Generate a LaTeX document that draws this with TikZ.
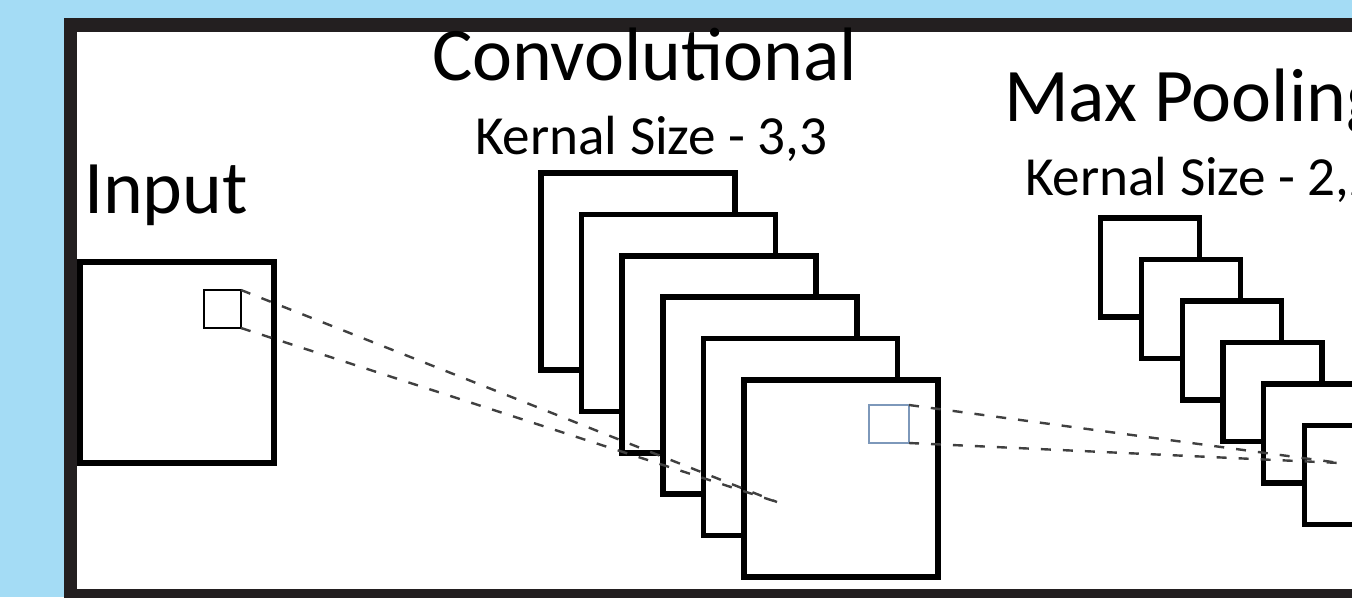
\documentclass[tikz,border=0pt]{standalone}
\usepackage{fontspec}
\setmainfont{Carlito}
\definecolor{sky}{RGB}{164,220,245}
\definecolor{frameink}{RGB}{35,31,32}
\definecolor{winblue}{RGB}{125,152,186}
\begin{document}
\begin{tikzpicture}[x=0.75pt,y=-0.75pt,
  fmap/.style={draw=black, fill=white, line width=4.2pt, minimum width=145.5pt,
    minimum height=147.75pt, inner sep=0pt, outer sep=0pt, anchor=north west},
  pmap/.style={draw=black, fill=white, line width=3.9pt, minimum width=74.25pt,
    minimum height=74.25pt, inner sep=0pt, outer sep=0pt, anchor=north west},
  inbox/.style={draw=black, fill=white, line width=3.9pt, minimum width=145.5pt,
    minimum height=150.75pt, inner sep=0pt, outer sep=0pt, anchor=north west},
  window/.style={draw=#1, line width=1.9pt, inner sep=0pt, outer sep=0pt, anchor=north west},
  conn/.style={draw=black!75, line width=1.8pt, dash pattern=on 7.5pt off 9pt},
  title/.style={inner sep=0pt, outer sep=0pt, anchor=base west,
    font=\fontsize{56.8pt}{60pt}\selectfont},
  sub/.style={inner sep=0pt, outer sep=0pt, anchor=base west,
    font=\fontsize{41.4pt}{44pt}\selectfont}]
\useasboundingbox (0,0) rectangle (1352,597);
\clip (0,0) rectangle (1352,597);
% backdrop and panel frame
\fill[sky] (0,0) rectangle (1352,597);
\draw[frameink, fill=white, line width=10.1pt] (70.5,25) rectangle (1430,596);

% input image with its receptive window
\node[inbox] (input) at (80,262) {};
\node[window=black, minimum width=27.75pt, minimum height=28.5pt] (inwin) at (204,290) {};

% stack of convolutional feature maps
\foreach \i in {0,...,5}
  \node[fmap] (conv\i) at (541+40.6*\i, 173+41.4*\i) {};
\node[window=winblue, minimum width=30pt, minimum height=28.5pt] (convwin) at (869,405) {};

% stack of pooled maps
\foreach \i in {0,...,5}
  \node[pmap] (pool\i) at (1100.5+40.8*\i, 218+41.5*\i) {};

% projections of the windows onto the next layer
\coordinate (convtip) at (777,502);
\coordinate (pooltip) at (1340,463);
\draw[conn] (inwin.north east) -- (convtip);
\draw[conn] (inwin.south east) -- (convtip);
\draw[conn] (convwin.north east) -- (pooltip);
\draw[conn] (convwin.south east) -- (pooltip);

% labels
\node[title] (lblin) at (84,213) {Input};
\node[title] (lblconv) at (432,80) {Convolutional};
\node[sub] (lblck) at (475,154) {Kernal Size - 3,3};
\node[title] (lblpool) at (1004,121) {Max Pooling};
\node[sub] (lblpk) at (1025,195) {Kernal Size - 2,2};
\end{tikzpicture}
\end{document}
